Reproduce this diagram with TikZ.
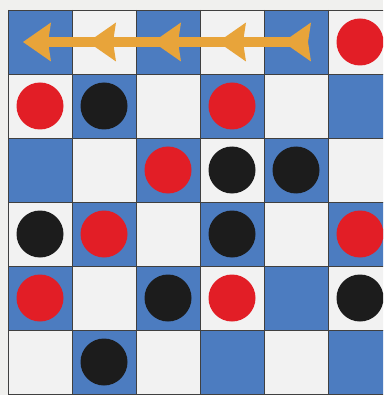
\documentclass[tikz,border=0pt]{standalone}
\usepackage{xcolor}
\usepackage{tikz}
\usetikzlibrary{calc}
\definecolor{boardblue}{RGB}{76,124,192}
\definecolor{boardwhite}{RGB}{242,242,242}
\definecolor{paper}{RGB}{240,240,238}
\definecolor{piecered}{RGB}{226,30,38}
\definecolor{pieceblack}{RGB}{28,28,28}
\definecolor{arroworange}{RGB}{232,164,58}
\tikzset{
  bluecell/.style={fill=boardblue},
  gridline/.style={draw=black!75,line width=0.6pt},
  piece/.style={fill=#1},
  piece/.default=piecered,
  shaft/.style={draw=arroworange,line width=10pt},
  head/.style={fill=arroworange},
}

\begin{document}
\begin{tikzpicture}[x=1pt,y=-1pt]
  % --- frame of the picture (pixels of the reference) ---
  \fill[paper] (0,0) rectangle (383,395);
  \useasboundingbox (0,0) rectangle (383,395);
  \clip (0,0) rectangle (383,395);

  % --- board ---
  \fill[boardwhite] (8,10) rectangle (392,394);
  \foreach \r in {0,...,5}
    \foreach \c in {0,...,5} {
      \pgfmathtruncatemacro{\odd}{mod(\r+\c,2)}
      \ifnum\odd=0
        \fill[bluecell] (8+64*\c,10+64*\r) rectangle ++(64,64);
      \fi
    }
  \foreach \i in {0,...,6} {
    \draw[gridline] (8+64*\i,10) -- (8+64*\i,394);
    \draw[gridline] (8,10+64*\i) -- (392,10+64*\i);
  }

  % --- pieces (column/row/colour) ---
  \foreach \c/\r/\col in {5/0/piecered,
      0/1/piecered, 1/1/pieceblack, 3/1/piecered,
      2/2/piecered, 3/2/pieceblack, 4/2/pieceblack,
      0/3/pieceblack, 1/3/piecered, 3/3/pieceblack, 5/3/piecered,
      0/4/piecered, 2/4/pieceblack, 3/4/piecered, 5/4/pieceblack,
      1/5/pieceblack}
    \fill[piece=\col] (40+64*\c,42+64*\r) circle (23.5);

  % --- orange arrow ---
  \draw[shaft] (308,42) -- (36,42);
  \foreach \t in {23,88,153,218,283}
    \fill[head] (\t,42) -- (\t+28,22.5) -- (\t+25,42) -- (\t+28,61.5) -- cycle;
\end{tikzpicture}
\end{document}
